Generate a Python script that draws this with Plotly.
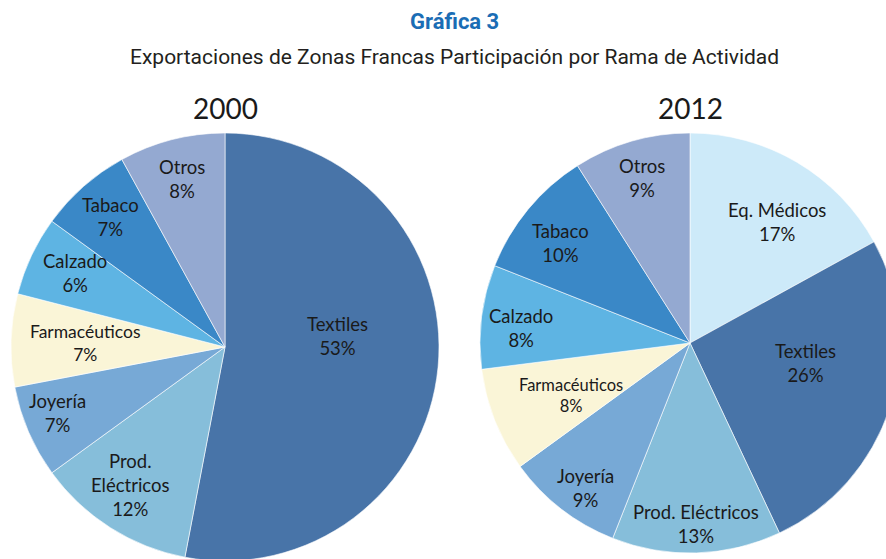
import math
import plotly.graph_objects as go

# ---- data ----
labels_2000 = ["Textiles", "Prod. Eléctricos", "Joyería", "Farmacéuticos", "Calzado", "Tabaco", "Otros"]
values_2000 = [53, 12, 7, 7, 6, 7, 8]

labels_2012 = ["Eq. Médicos", "Textiles", "Prod. Eléctricos", "Joyería", "Farmacéuticos", "Calzado", "Tabaco", "Otros"]
values_2012 = [17, 26, 13, 9, 8, 8, 10, 9]

title_main = "Gráfica 3"
title_sub = "Exportaciones de Zonas Francas Participación por Rama de Actividad"
years = ["2000", "2012"]

# ---- styles ----
color_map = {
    "Textiles": "#4874A8",
    "Prod. Eléctricos": "#86BEDA",
    "Joyería": "#77A9D6",
    "Farmacéuticos": "#FAF5D7",
    "Calzado": "#5EB4E3",
    "Tabaco": "#3A88C7",
    "Otros": "#94A9D1",
    "Eq. Médicos": "#CDEAF9",
}

W, H = 906, 565
FONT = "Lato, 'Open Sans', sans-serif"
TFONT = "Roboto, sans-serif"

# pie geometry in pixels: (left, top, size)
pie_boxes = [(11, 133, 428), (480, 133, 420)]

# label placement style per pie: label -> (radius fraction, angle shift deg, display text, font size)
label_style = [
    {
        "Textiles": (0.53, -11, "Textiles", 18.5),
        "Prod. Eléctricos": (0.78, 2, "Prod.<br>Eléctricos", 18.5),
        "Joyería": (0.84, 2, "Joyería", 18.5),
        "Farmacéuticos": (0.65, 0, "Farmacéuticos", 17.5),
        "Calzado": (0.78, 1, "Calzado", 18.5),
        "Tabaco": (0.81, 0, "Tabaco", 18.5),
        "Otros": (0.81, 0, "Otros", 18.5),
    },
    {
        "Eq. Médicos": (0.71, 5, "Eq. Médicos", 18.5),
        "Textiles": (0.56, -8, "Textiles", 18.5),
        "Prod. Eléctricos": (0.86, 0, "Prod. Eléctricos", 18.5),
        "Joyería": (0.85, -2, "Joyería", 18.5),
        "Farmacéuticos": (0.62, -2, "Farmacéuticos", 16.5),
        "Calzado": (0.81, -2, "Calzado", 18.5),
        "Tabaco": (0.78, -2, "Tabaco", 18.5),
        "Otros": (0.82, 0, "Otros", 18.5),
    },
]


def dom(box):
    x0, y0, s = box
    return dict(x=[x0 / W, (x0 + s) / W], y=[(H - y0 - s) / H, (H - y0) / H])


fig = go.Figure()
annotations = []
for labels, values, box, style in zip([labels_2000, labels_2012], [values_2000, values_2012], pie_boxes, label_style):
    fig.add_trace(go.Pie(
        labels=labels, values=values,
        textinfo="none", sort=False, direction="clockwise", rotation=0,
        marker=dict(colors=[color_map[l] for l in labels], line=dict(color="white", width=0.6)),
        domain=dom(box), showlegend=False, hoverinfo="label+percent",
    ))
    total = sum(values)
    x0, y0, s = box
    cx, cy, R = x0 + s / 2, y0 + s / 2, s / 2
    cum = 0
    for lab, v in zip(labels, values):
        frac, dth, txt, fs = style[lab]
        mid = (cum + v / 2) / total * 360 + dth
        cum += v
        px = cx + R * frac * math.sin(math.radians(mid))
        py = cy - R * frac * math.cos(math.radians(mid))
        annotations.append(dict(
            text=f"{txt}<br>{round(v / total * 100)}%", x=px / W, y=(H - py) / H,
            font=dict(family=FONT, size=fs, color="#1a1a1a"),
        ))

annotations += [
    dict(text="<b>" + title_main + "</b>", x=454 / W, y=(H - 21) / H,
         font=dict(family=TFONT, size=22, color="#1B6DB5")),
    dict(text=title_sub, x=454 / W, y=(H - 57) / H,
         font=dict(family=TFONT, size=21, color="#231F20")),
    dict(text=years[0], x=225 / W, y=(H - 108) / H,
         font=dict(family=FONT, size=28, color="#1a1a1a")),
    dict(text=years[1], x=690 / W, y=(H - 108) / H,
         font=dict(family=FONT, size=28, color="#1a1a1a")),
]
for a in annotations:
    a.update(xref="paper", yref="paper", showarrow=False, xanchor="center", yanchor="middle")

fig.update_layout(
    width=W, height=H,
    margin=dict(l=0, r=0, t=0, b=0),
    paper_bgcolor="white", plot_bgcolor="white",
    annotations=annotations,
)

fig.write_html("out.html", config={"displayModeBar": False},
               post_script="document.body.style.margin='0';document.body.style.overflow='hidden';")
